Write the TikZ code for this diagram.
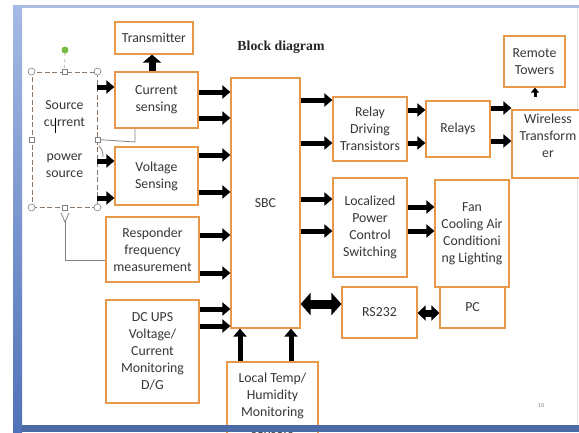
\documentclass[tikz,border=0pt]{standalone}
\usepackage{fontspec}
\setmainfont{Carlito}
\newfontfamily\titlefont{Liberation Serif}
\usetikzlibrary{arrows.meta}
\definecolor{boxor}{RGB}{232,152,74}
\definecolor{txt}{RGB}{55,55,55}
\definecolor{hdl}{RGB}{130,130,130}
\definecolor{tbx}{RGB}{140,120,105}
\definecolor{frameL}{RGB}{165,186,228}
\definecolor{frameD}{RGB}{80,114,184}
\definecolor{band}{RGB}{76,106,166}
\definecolor{topline}{RGB}{172,190,222}
\definecolor{rot}{RGB}{120,190,70}
\tikzset{
  box/.style={draw=boxor, line width=1.2pt, fill=white, text=txt, align=center, inner sep=1pt, font=\fontsize{13.8}{17}\selectfont},
  blk/.style={line width=5pt, -{Triangle[length=8pt,width=13pt]}},
  fatup/.style={line width=7pt, -{Triangle[length=8pt,width=18pt]}},
  small/.style={line width=3pt, -{Triangle[length=5pt,width=8pt]}},
  dbl/.style={line width=9pt, {Triangle[length=10pt,width=22pt]}-{Triangle[length=10pt,width=22pt]}},
  dbls/.style={line width=7pt, {Triangle[length=8pt,width=15pt]}-{Triangle[length=8pt,width=15pt]}},
  conn/.style={draw=hdl, line width=0.8pt},
  hcirc/.style={circle, draw=hdl, fill=white, line width=0.6pt, inner sep=0pt, minimum size=7pt},
  hsq/.style={rectangle, draw=hdl, fill=white, line width=0.6pt, inner sep=0pt, minimum size=5pt}
}
\begin{document}
\begin{tikzpicture}[x=1pt,y=-1pt]
\useasboundingbox (0,0) rectangle (579,432);
\fill[white] (0,0) rectangle (579,432);
% slide frame
\fill[topline] (13,5) rectangle (579,8);
\shade[top color=frameL, bottom color=frameD] (13,5) rectangle (22,432);
\draw[gray!25, line width=0.6pt] (577,8) -- (577,425);

% title
\node[font=\titlefont\bfseries\fontsize{13.8}{16}\selectfont, text=black!85] (title) at (281,47) {Block diagram};

% boxes
\node[box, minimum width=78pt, minimum height=32pt] (trans) at (154,38) {Transmitter};
\node[box, minimum width=83pt, minimum height=56pt] (cur) at (156.5,100) {Current\\sensing};
\node[box, minimum width=83pt, minimum height=58pt] (volt) at (156.5,176) {Voltage\\Sensing};
\node[box, minimum width=93pt, minimum height=65pt] (resp) at (152.5,249.5) {Responder\\frequency\\measurement};
\node[box, minimum width=93pt, minimum height=103pt] (dcups) at (152.5,351.5) {DC UPS\\Voltage/\\Current\\Monitoring\\D/G};
\node[box, minimum width=69pt, minimum height=250pt] (sbc) at (265.5,203) {SBC};
\node[box, minimum width=91pt, minimum height=83pt] (temp) at (272.5,403.5) {Local Temp/\\Humidity\\Monitoring\\sensors};
\node[box, minimum width=74pt, minimum height=64pt] (rdt) at (370,129) {Relay\\Driving\\Transistors};
\node[box, minimum width=64pt, minimum height=56pt] (relays) at (458,129) {Relays};
\node[box, minimum width=72pt, minimum height=68pt] (wire) at (548,144) {Wireless\\Transform\\er\\\mbox{}};
\node[box, minimum width=61pt, minimum height=51pt] (remote) at (534.5,61.5) {Remote\\Towers};
\node[box, minimum width=74pt, minimum height=99pt] (lps) at (370,227.5) {Localized\\Power\\Control\\Switching};
\node[box, minimum width=74pt, minimum height=107pt] (fan) at (472,233.5) {Fan\\Cooling Air\\Conditioni\\ng Lighting};
\node[box, minimum width=75pt, minimum height=51pt] (rs) at (379.5,312.5) {RS232};
\node[box, minimum width=65pt, minimum height=41pt] (pc) at (472.5,307.5) {PC};

% selected text box
\node[draw=tbx, dashed, dash pattern=on 5pt off 2.5pt, line width=0.9pt, fill=white, text=txt, align=center, inner sep=0pt, font=\fontsize{13.8}{17}\selectfont, minimum width=65pt, minimum height=135pt] (src) at (64.5,139.5) {Source\\current\\\mbox{}\\power\\source};
\draw[black, line width=0.6pt] (55.5,118) -- (55.5,133);
% connectors from the text box
\coordinate (yv) at (65,222);
\draw[conn] (src.east) -- (135,142) -- (cur.south -| 135,0);
\draw[conn] (99,146) .. controls (102,149) and (103,152) .. (103,157);
\draw[conn] (61,213) -- (yv) -- (69,213);
\draw[conn] (yv) -- (65,260) -- (resp.west |- 0,260);
% handles
\draw[gray!70, dashed, line width=0.6pt] (65,53) -- (src.north);
\node[circle, fill=rot, inner sep=0pt, minimum size=7pt] (rh) at (65,50) {};
\node[hcirc] (h1) at (src.north west) {};
\node[hcirc] (h2) at (src.north east) {};
\node[hcirc] (h3) at (src.south west) {};
\node[hcirc] (h4) at (src.south east) {};
\node[hsq] (h5) at (src.north) {};
\node[hsq] (h6) at (src.south) {};
\node[hsq] (h7) at (src.west) {};
\node[hsq] (h8) at (src.east) {};

% arrows
\draw[blk] (src.east |- 0,87) -- (cur.west |- 0,87);
\draw[blk] (src.east |- 0,161) -- (volt.west |- 0,161);
\draw[blk] (src.east |- 0,198) -- (volt.west |- 0,198);
\draw[fatup] (cur.north -| 152,0) -- (trans.south -| 152,0);
\draw[blk] (cur.east |- 0,92) -- (sbc.west |- 0,92);
\draw[blk] (cur.east |- 0,118) -- (sbc.west |- 0,118);
\draw[blk] (volt.east |- 0,155) -- (sbc.west |- 0,155);
\draw[blk] (volt.east |- 0,192) -- (sbc.west |- 0,192);
\draw[blk] (resp.east |- 0,235) -- (sbc.west |- 0,235);
\draw[blk] (resp.east |- 0,273) -- (sbc.west |- 0,273);
\draw[blk] (dcups.east |- 0,309) -- (sbc.west |- 0,309);
\draw[blk] (dcups.east |- 0,326) -- (sbc.west |- 0,326);
\draw[blk] (temp.north -| 240,0) -- (sbc.south -| 240,0);
\draw[blk] (temp.north -| 291,0) -- (sbc.south -| 291,0);
\draw[blk] (sbc.east |- 0,100) -- (rdt.west |- 0,100);
\draw[blk] (sbc.east |- 0,143) -- (rdt.west |- 0,143);
\draw[blk] (sbc.east |- 0,199) -- (lps.west |- 0,199);
\draw[blk] (sbc.east |- 0,231) -- (lps.west |- 0,231);
\draw[blk] (rdt.east |- 0,110) -- (relays.west |- 0,110);
\draw[blk] (rdt.east |- 0,143) -- (relays.west |- 0,143);
\draw[blk] (relays.east |- 0,108) -- (wire.west |- 0,108);
\draw[blk] (relays.east |- 0,141) -- (wire.west |- 0,141);
\draw[blk] (lps.east |- 0,207) -- (fan.west |- 0,207);
\draw[blk] (lps.east |- 0,231) -- (fan.west |- 0,231);
\coordinate (rt) at (535,97);
\draw[small] (rt) -- (remote.south -| rt);
\draw[dbl] (sbc.east |- 0,304) -- (rs.west |- 0,304);
\draw[dbls] (rs.east |- 0,313) -- (pc.west |- 0,313);

% page number
\node[text=gray, font=\fontsize{6}{7}\selectfont] (pg) at (541,406) {10};

% bottom band
\fill[band] (13,425) rectangle (579,432);
\fill[frameD] (13,425) rectangle (22,432);
\end{tikzpicture}
\end{document}
